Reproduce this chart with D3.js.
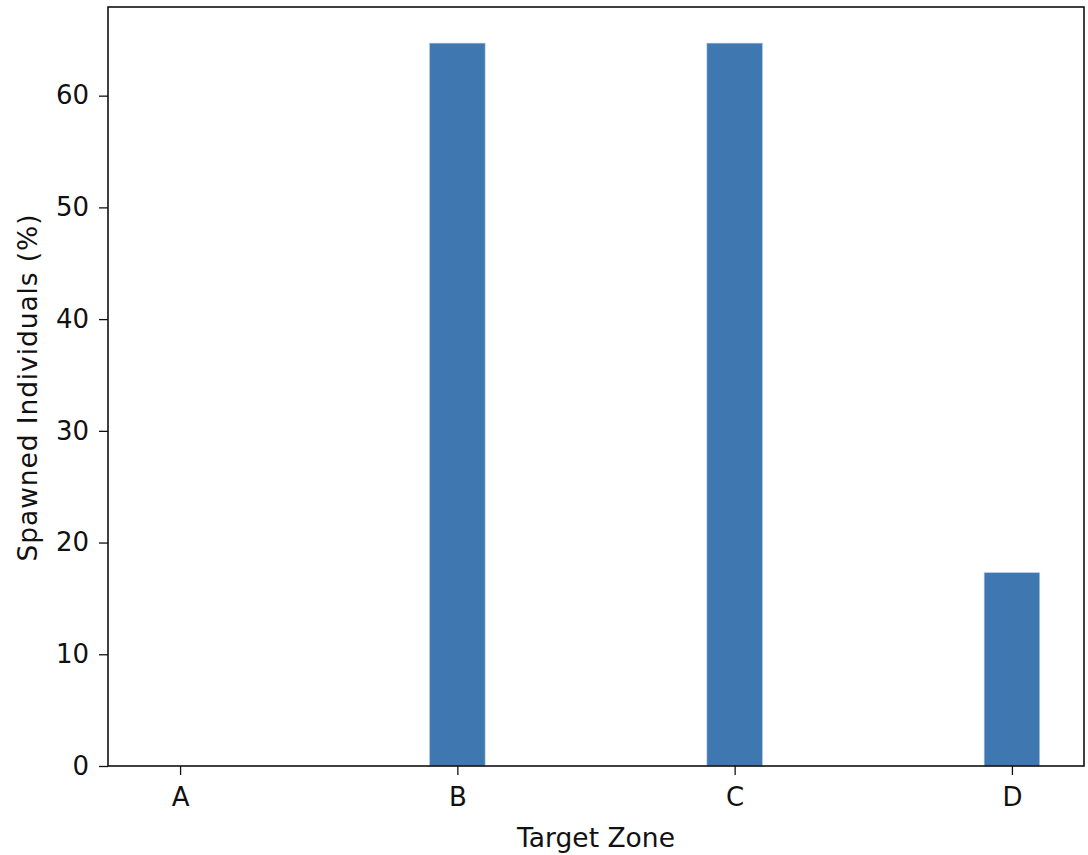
<!DOCTYPE html>
<html><head><meta charset="utf-8">
<script src="https://cdn.jsdelivr.net/npm/d3@7"></script>
<style>body{margin:0;background:#fff}svg{display:block}text{font-family:"DejaVu Sans",sans-serif;fill:#111}</style>
</head><body>
<script>
const categories = ["A","B","C","D"];
const values = [0, 64.7, 64.7, 17.3];
const yTicks = [0,10,20,30,40,50,60];
const xLabel = "Target Zone";
const yLabel = "Spawned Individuals (%)";

const W=1088,H=855, L=108,R=1084,T=7,B=766;
const FS=26;
const svg=d3.select("body").append("svg").attr("width",W).attr("height",H);
const x=d3.scaleLinear().domain([-0.26,3.26]).range([L,R]);
const y=d3.scaleLinear().domain([0,d3.max(values)*1.05]).range([B,T]);
const bw=0.2;
svg.selectAll("rect.bar").data(values).join("rect").attr("class","bar")
  .attr("x",(d,i)=>x(i-bw/2)).attr("width",(d,i)=>x(i+bw/2)-x(i-bw/2))
  .attr("y",d=>y(d)).attr("height",d=>y(0)-y(d))
  .attr("fill","#3f77b1").attr("stroke","#a9c3df").attr("stroke-width",0.6);
const xa=svg.append("g").attr("transform",`translate(0,${B})`)
  .call(d3.axisBottom(x).tickValues([0,1,2,3]).tickFormat(i=>categories[i]).tickSize(9).tickPadding(13));
const ya=svg.append("g").attr("transform",`translate(${L},0)`)
  .call(d3.axisLeft(y).tickValues(yTicks).tickSize(9).tickPadding(10));
[xa,ya].forEach(a=>{a.attr("font-size",null).attr("font-family",null);a.select(".domain").remove();a.selectAll("line").attr("stroke","#111").attr("stroke-width",1.3);a.selectAll("text").style("font-size",FS+"px").style("font-family","DejaVu Sans").attr("fill","#111");});
svg.append("rect").attr("x",L).attr("y",T).attr("width",R-L).attr("height",B-T).attr("fill","none").attr("stroke","#111").attr("stroke-width",1.6);
svg.append("text").attr("x",(L+R)/2).attr("y",846.5).attr("text-anchor","middle").style("font-size","26.5px").text(xLabel);
svg.append("text").attr("transform",`translate(36.5,${(T+B)/2+1}) rotate(-90)`).attr("text-anchor","middle").style("font-size","26.5px").style("letter-spacing","0.9px").text(yLabel);
</script>
</body></html>
